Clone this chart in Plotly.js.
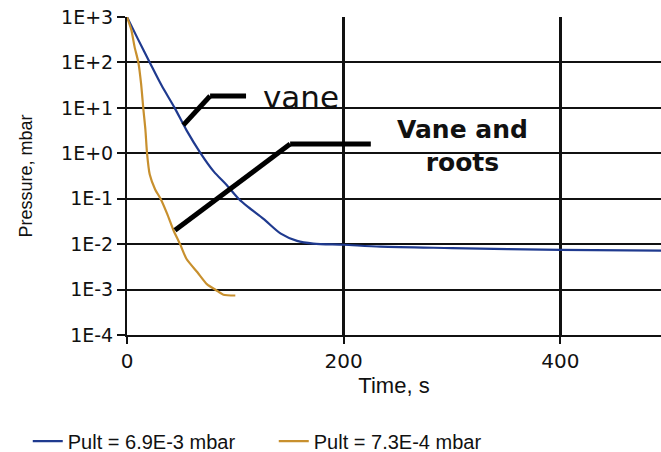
<!DOCTYPE html>
<html>
<head>
<meta charset="utf-8">
<script src="https://cdn.plot.ly/plotly-3.0.1.min.js"></script>
<style>
  html, body { margin: 0; padding: 0; background: #ffffff; }
  #chart { width: 661px; height: 452px; }
</style>
</head>
<body>
<div id="chart"></div>
<script>
// Pump-down curves: pressure (mbar, log scale) against time (s)
const timeVane = [0, 10, 21, 32, 44, 55, 68, 80, 92, 103, 112, 126, 142, 157, 172, 200, 234, 300, 400, 493];
const pressureVane = [1000, 330, 100, 31, 10, 3.2, 1.0, 0.40, 0.20, 0.10, 0.065, 0.036, 0.017, 0.0118, 0.0103, 0.0097, 0.0088, 0.0082, 0.0075, 0.0072];

const timeVaneRoots = [0, 4, 7, 10.5, 13, 15, 17, 18.5, 21, 26, 31, 37, 43, 49, 55, 65, 74, 82, 89, 100];
const pressureVaneRoots = [1000, 520, 220, 100, 34, 10, 3.3, 1.0, 0.34, 0.16, 0.10, 0.047, 0.020, 0.010, 0.0047, 0.0024, 0.0013, 0.00098, 0.00077, 0.00074];

const seriesNames = ['Pult = 6.9E-3 mbar', 'Pult = 7.3E-4 mbar'];
const seriesColors = ['#1f3a8f', '#c8902e'];

const yTickValues = [1e-4, 1e-3, 1e-2, 1e-1, 1e0, 1e1, 1e2, 1e3];
const yTickLabels = ['1E-4', '1E-3', '1E-2', '1E-1', '1E+0', '1E+1', '1E+2', '1E+3'];
const xTickValues = [0, 200, 400];

const traces = [
  {
    x: timeVane, y: pressureVane, name: seriesNames[0],
    type: 'scatter', mode: 'lines',
    line: { color: seriesColors[0], width: 2.2, shape: 'spline', smoothing: 0.8 }
  },
  {
    x: timeVaneRoots, y: pressureVaneRoots, name: seriesNames[1],
    type: 'scatter', mode: 'lines',
    line: { color: seriesColors[1], width: 2.2, shape: 'spline', smoothing: 0.6 }
  }
];

// callout leaders, as (time, pressure) corner points
const leaderVane = [[52.0, 4.18], [76.7, 18.2], [109.9, 18.2]];
const leaderRoots = [[44.3, 0.0203], [150.6, 1.60], [225.1, 1.60]];

function leaderShapes(pts) {
  const out = [];
  for (let i = 0; i < pts.length - 1; i++) {
    out.push({
      type: 'line', xref: 'x', yref: 'y',
      x0: pts[i][0], y0: pts[i][1], x1: pts[i + 1][0], y1: pts[i + 1][1],
      line: { color: '#000000', width: 5 }
    });
  }
  return out;
}

const layout = {
  width: 661, height: 452,
  margin: { l: 127, r: 0, t: 17, b: 117 },
  paper_bgcolor: '#ffffff', plot_bgcolor: '#ffffff',
  showlegend: true,
  legend: {
    orientation: 'h',
    xref: 'container', yref: 'container',
    x: 0.042, y: 0.024, xanchor: 'left', yanchor: 'middle',
    font: { family: 'Liberation Sans, Arial, sans-serif', size: 20, color: '#111111' },
    entrywidth: 201, entrywidthmode: 'pixels',
    bgcolor: 'rgba(0,0,0,0)'
  },
  xaxis: {
    range: [0, 493],
    tickvals: xTickValues,
    ticks: 'outside', ticklen: 7, tickwidth: 2, tickcolor: '#111111',
    showgrid: true, gridcolor: '#111111', gridwidth: 2.6,
    showline: true, linecolor: '#111111', linewidth: 2,
    zeroline: false,
    tickfont: { family: 'DejaVu Sans, sans-serif', size: 20, color: '#111111' },
    title: { text: 'Time, s', font: { family: 'Liberation Sans, Arial, sans-serif', size: 22, color: '#111111' }, standoff: 4 }
  },
  yaxis: {
    type: 'log',
    range: [-4, 3],
    tickvals: yTickValues,
    ticktext: yTickLabels,
    ticks: 'outside', ticklen: 8, tickwidth: 2, tickcolor: '#111111',
    showgrid: true, gridcolor: '#111111', gridwidth: 2,
    showline: true, linecolor: '#111111', linewidth: 2,
    zeroline: false,
    tickfont: { family: 'DejaVu Sans, sans-serif', size: 19, color: '#111111' },
    title: { text: 'Pressure, mbar', font: { family: 'Liberation Sans, Arial, sans-serif', size: 18, color: '#111111' }, standoff: 24 }
  },
  shapes: leaderShapes(leaderVane).concat(leaderShapes(leaderRoots)),
  annotations: [
    {
      x: 161, y: 1.238, xref: 'x', yref: 'y', showarrow: false,
      text: 'vane', xanchor: 'center', yanchor: 'middle',
      font: { family: 'DejaVu Sans, sans-serif', size: 31, color: '#111111' }
    },
    {
      x: 310, y: 0.159, xref: 'x', yref: 'y', showarrow: false,
      text: '<b>Vane and<br>roots</b>', align: 'center', xanchor: 'center', yanchor: 'middle',
      font: { family: 'DejaVu Sans, sans-serif', size: 25, color: '#111111' }
    }
  ]
};

Plotly.newPlot('chart', traces, layout, { displayModeBar: false, staticPlot: true });
</script>
</body>
</html>
